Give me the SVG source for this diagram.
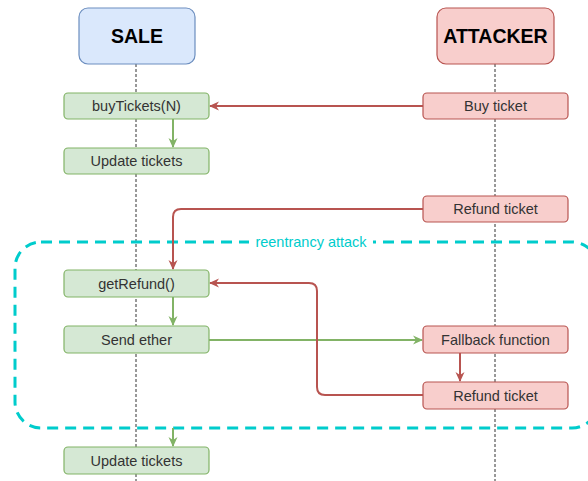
<svg xmlns="http://www.w3.org/2000/svg" width="588" height="481" viewBox="0 0 588 481">
<defs>
<style>
.life{stroke:#333;stroke-width:1;stroke-dasharray:3 2;fill:none}
.g{fill:#d5e8d4;stroke:#82b366;stroke-width:1.2}
.r{fill:#f8cecc;stroke:#b85450;stroke-width:1.2}
.b{fill:#dae8fc;stroke:#6c8ebf;stroke-width:1.2}
.t{font-family:"Liberation Sans",Arial,sans-serif;font-size:14.5px;fill:#333;text-anchor:middle}
.h{font-family:"Liberation Sans",Arial,sans-serif;font-size:19.5px;font-weight:bold;fill:#000;text-anchor:middle}
.cg{stroke:#82b366;stroke-width:2;fill:none;marker-end:url(#ag)}
.cr{stroke:#b85450;stroke-width:2;fill:none;marker-end:url(#ar)}
</style>
<marker id="ag" viewBox="0 0 10 10" refX="9" refY="5" markerWidth="10" markerHeight="10" markerUnits="userSpaceOnUse" orient="auto"><path d="M0,0.5 L10,5 L0,9.5 L3,5 Z" fill="#82b366"/></marker>
<marker id="ar" viewBox="0 0 10 10" refX="9" refY="5" markerWidth="10" markerHeight="10" markerUnits="userSpaceOnUse" orient="auto"><path d="M0,0.5 L10,5 L0,9.5 L3,5 Z" fill="#b85450"/></marker>
</defs>
<rect width="588" height="481" fill="#fff"/>
<g id="lifelines">
<line class="life" x1="136" y1="64" x2="136" y2="481"/>
<line class="life" x1="495" y1="64" x2="495" y2="481"/>
</g>
<g id="reentrancy">
<rect x="15" y="242" width="583" height="186" rx="26" fill="none" stroke="#00cccc" stroke-width="3" stroke-dasharray="11 7"/>
<rect x="249" y="233" width="124" height="18" fill="#fff"/>
<text x="311" y="247" font-family="Liberation Sans,Arial,sans-serif" font-size="14.5" fill="#00cccc" text-anchor="middle">reentrancy attack</text>
</g>
<g id="connectors">
<path class="cr" d="M423,106 H210"/>
<path class="cg" d="M173,119 V147"/>
<path class="cr" d="M423,209 H181 Q173,209 173,217 V269"/>
<path class="cg" d="M173,297 V325"/>
<path class="cg" d="M209,340 H422"/>
<path class="cr" d="M460,353 V381"/>
<path class="cr" d="M423,395 H325 Q317,395 317,387 V291 Q317,283 309,283 H210"/>
<path class="cg" d="M173,428 V446"/>
</g>
<g id="sale"><rect class="b" x="79" y="8" width="116" height="56" rx="9"/><text class="h" x="137" y="43">SALE</text></g>
<g id="attacker"><rect class="r" x="437" y="8" width="117" height="56" rx="9"/><text class="h" x="495.5" y="43">ATTACKER</text></g>
<g id="buyTickets"><rect class="g" x="64" y="93" width="145" height="26" rx="4"/><text class="t" x="136.5" y="111">buyTickets(N)</text></g>
<g id="buyTicket"><rect class="r" x="423" y="93" width="145" height="26" rx="4"/><text class="t" x="495.5" y="111">Buy ticket</text></g>
<g id="updateTickets1"><rect class="g" x="64" y="148" width="145" height="26" rx="4"/><text class="t" x="136.5" y="166">Update tickets</text></g>
<g id="refundTicket1"><rect class="r" x="423" y="196" width="145" height="26" rx="4"/><text class="t" x="495.5" y="214">Refund ticket</text></g>
<g id="getRefund"><rect class="g" x="64" y="270" width="145" height="27" rx="4"/><text class="t" x="136.5" y="288.5">getRefund()</text></g>
<g id="sendEther"><rect class="g" x="64" y="326" width="145" height="27" rx="4"/><text class="t" x="136.5" y="344.5">Send ether</text></g>
<g id="fallback"><rect class="r" x="423" y="326" width="145" height="27" rx="4"/><text class="t" x="495.5" y="344.5">Fallback function</text></g>
<g id="refundTicket2"><rect class="r" x="423" y="382" width="145" height="27" rx="4"/><text class="t" x="495.5" y="400.5">Refund ticket</text></g>
<g id="updateTickets2"><rect class="g" x="64" y="447" width="145" height="27" rx="4"/><text class="t" x="136.5" y="465.5">Update tickets</text></g>
</svg>
